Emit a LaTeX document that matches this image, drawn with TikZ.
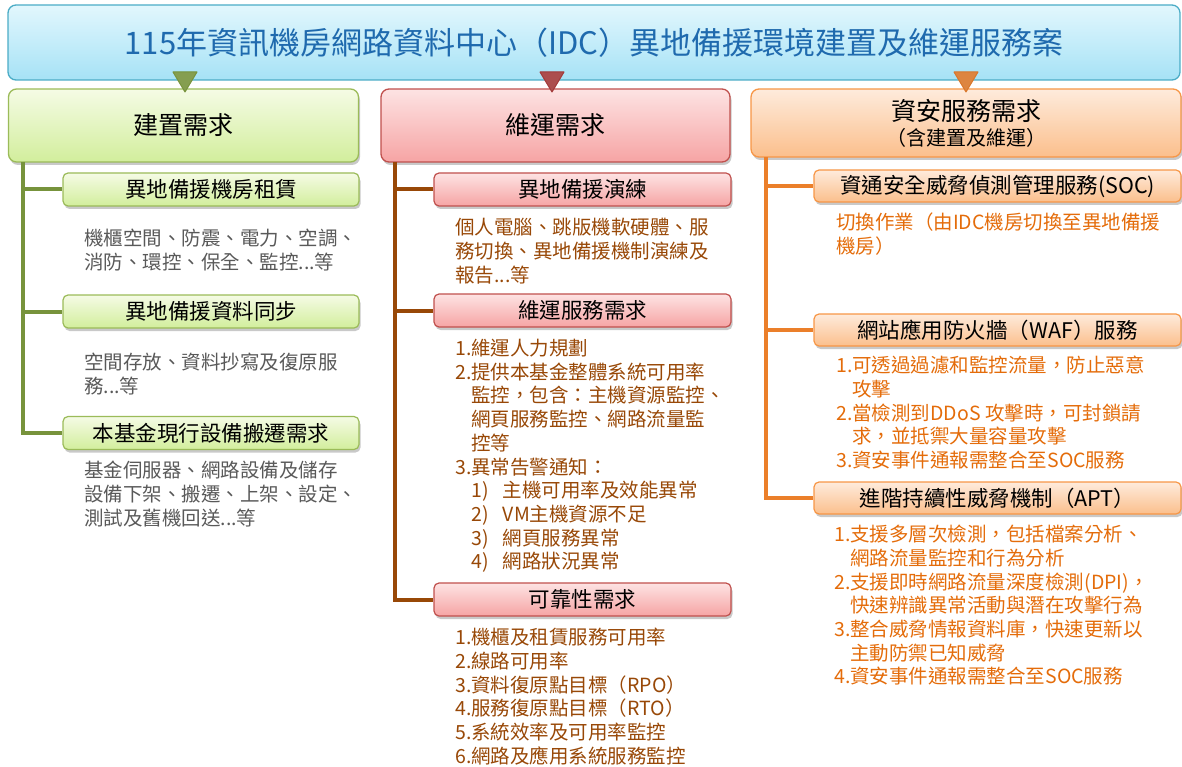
\documentclass[tikz,border=0pt]{standalone}
\usepackage{fontspec}
\setmainfont{Noto Sans CJK TC}
\usetikzlibrary{shadows}
\definecolor{titleTop}{HTML}{E2F7FD}
\definecolor{titleBot}{HTML}{A6E2F6}
\definecolor{titleBorder}{HTML}{4BACC6}
\definecolor{titleText}{HTML}{1F6AAE}
\definecolor{gTop}{HTML}{F5FBE5}
\definecolor{gBot}{HTML}{D2EE9C}
\definecolor{gBorder}{HTML}{9BBB59}
\definecolor{gDark}{HTML}{77933C}
\definecolor{gText}{HTML}{595959}
\definecolor{rTop}{HTML}{FDE3E3}
\definecolor{rBot}{HTML}{F6A4A4}
\definecolor{rBorder}{HTML}{C0504D}
\definecolor{rDark}{HTML}{A33A3A}
\definecolor{bLine}{HTML}{984807}
\definecolor{bText}{HTML}{984807}
\definecolor{oTop}{HTML}{FEEBDC}
\definecolor{oBot}{HTML}{FBBF8C}
\definecolor{oBorder}{HTML}{F79646}
\definecolor{oDark}{HTML}{D9772B}
\definecolor{oLine}{HTML}{EB7F2A}
\definecolor{oText}{HTML}{E46C0A}
\newcommand\fsz[2]{\fontsize{#1}{#2}\selectfont}
\begin{document}
\begin{tikzpicture}[x=1pt,y=-1pt,
  shadowed/.style={drop shadow={shadow xshift=1.5pt,shadow yshift=-3pt,opacity=0.3,fill=black!70}},
  titlebox/.style={rounded corners=8pt,draw=titleBorder,line width=1.3pt,top color=titleTop,bottom color=titleBot,
    minimum width=1172pt,minimum height=75pt,inner sep=0pt,text=titleText,font=\fsz{31}{34}},
  hdr/.style={rounded corners=8pt,line width=1.3pt,shadowed,align=center,inner sep=0pt,text=black,font=\fsz{25}{27}},
  subbox/.style={rounded corners=5pt,line width=1.2pt,shadowed,inner sep=0pt,text=black,font=\fsz{21.5}{24},minimum height=33pt},
  ghdr/.style={hdr,draw=gBorder,top color=gTop,bottom color=gBot},
  rhdr/.style={hdr,draw=rBorder,top color=rTop,bottom color=rBot},
  ohdr/.style={hdr,draw=oBorder,top color=oTop,bottom color=oBot},
  gsub/.style={subbox,draw=gBorder,top color=gTop,bottom color=gBot,minimum width=296pt},
  rsub/.style={subbox,draw=rBorder,top color=rTop,bottom color=rBot,minimum width=297pt},
  osub/.style={subbox,draw=oBorder,top color=oTop,bottom color=oBot,minimum width=367pt,minimum height=32pt},
  body/.style={anchor=north west,inner sep=0pt,align=left,font=\fsz{19.5}{23.7}},
  trunk/.style={line width=4pt},
  tri/.style={line width=1pt,line join=round}
]
\useasboundingbox (0,0) rectangle (1182,767);

% title
\node[titlebox] (title) at (594,42.5) {115年資訊機房網路資料中心（IDC）異地備援環境建置及維運服務案};

% headers
\node[ghdr,minimum width=350pt,minimum height=73pt] (h1) at (183.5,125.5) {建置需求};
\node[rhdr,minimum width=349pt,minimum height=73pt] (h2) at (555.5,125.5) {維運需求};
\node[ohdr,minimum width=430pt,minimum height=68pt] (h3) at (966,123) {資安服務需求\\[-2pt]{\fsz{20}{22}（含建置及維運）}};

% triangles
\filldraw[tri,fill=gDark!90,draw=gDark] (173,72) -- (197,72) -- (185,92) -- cycle;
\filldraw[tri,fill=rDark!90,draw=rDark] (540,72) -- (564,72) -- (552,92) -- cycle;
\filldraw[tri,fill=oDark!90,draw=oDark] (954,72) -- (978,72) -- (966,92) -- cycle;

% column 1
\node[gsub] (g1) at (211,189.5) {異地備援機房租賃};
\node[gsub] (g2) at (211,311.5) {異地備援資料同步};
\node[gsub] (g3) at (211,433) {本基金現行設備搬遷需求};
\coordinate (t1) at (23,162);
\draw[trunk,draw=gDark] (t1) |- (g3.west);
\draw[trunk,draw=gDark] (t1 |- g1.west) -- (g1.west);
\draw[trunk,draw=gDark] (t1 |- g2.west) -- (g2.west);
\node[body,text=gText] (g1t) at (84,229) {機櫃空間、防震、電力、空調、\\消防、環控、保全、監控...等};
\node[body,text=gText] (g2t) at (84,353) {空間存放、資料抄寫及復原服\\務...等};
\node[body,text=gText] (g3t) at (84,461) {基金伺服器、網路設備及儲存\\設備下架、搬遷、上架、設定、\\測試及舊機回送...等};

% column 2
\node[rsub] (r1) at (582.5,189.5) {異地備援演練};
\node[rsub] (r2) at (582.5,310.5) {維運服務需求};
\node[rsub] (r3) at (582.5,599.5) {可靠性需求};
\coordinate (t2) at (395,162);
\draw[trunk,draw=bLine] (t2) |- (r3.west);
\draw[trunk,draw=bLine] (t2 |- r1.west) -- (r1.west);
\draw[trunk,draw=bLine] (t2 |- r2.west) -- (r2.west);
\node[body,text=bText] (r1t) at (455,218) {個人電腦、跳版機軟硬體、服\\務切換、異地備援機制演練及\\報告...等};
\node[body,text=bText] (r2t) at (455,339) {1.維運人力規劃\\2.提供本基金整體系統可用率\\\hphantom{2.}監控，包含：主機資源監控、\\\hphantom{2.}網頁服務監控、網路流量監\\\hphantom{2.}控等\\3.異常告警通知：\\\hphantom{3.}1)\hspace{14pt}主機可用率及效能異常\\\hphantom{3.}2)\hspace{14pt}VM主機資源不足\\\hphantom{3.}3)\hspace{14pt}網頁服務異常\\\hphantom{3.}4)\hspace{14pt}網路狀況異常};
\node[body,text=bText] (r3t) at (455,628) {1.機櫃及租賃服務可用率\\2.線路可用率\\3.資料復原點目標（RPO）\\4.服務復原點目標（RTO）\\5.系統效率及可用率監控\\6.網路及應用系統服務監控};

% column 3
\node[osub] (o1) at (997.5,186) {資通安全威脅偵測管理服務(SOC)};
\node[osub] (o2) at (997.5,330) {網站應用防火牆（WAF）服務};
\node[osub] (o3) at (997.5,498) {進階持續性威脅機制（APT）};
\coordinate (t3) at (766,157);
\draw[trunk,draw=oLine] (t3) |- (o3.west);
\draw[trunk,draw=oLine] (t3 |- o1.west) -- (o1.west);
\draw[trunk,draw=oLine] (t3 |- o2.west) -- (o2.west);
\node[body,text=oText] (o1t) at (836,213) {切換作業（由IDC機房切換至異地備援\\機房）};
\node[body,text=oText] (o2t) at (836,356) {1.可透過過濾和監控流量，防止惡意\\\hphantom{1.}攻擊\\2.當檢測到DDoS 攻擊時，可封鎖請\\\hphantom{2.}求，並抵禦大量容量攻擊\\3.資安事件通報需整合至SOC服務};
\node[body,text=oText] (o3t) at (834,525) {1.支援多層次檢測，包括檔案分析、\\\hphantom{1.}網路流量監控和行為分析\\2.支援即時網路流量深度檢測(DPI)，\\\hphantom{2.}快速辨識異常活動與潛在攻擊行為\\3.整合威脅情報資料庫，快速更新以\\\hphantom{3.}主動防禦已知威脅\\4.資安事件通報需整合至SOC服務};
\end{tikzpicture}
\end{document}
